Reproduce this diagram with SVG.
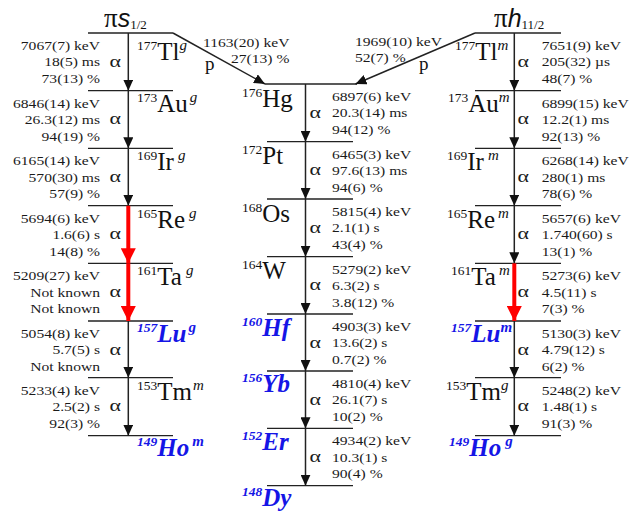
<svg xmlns="http://www.w3.org/2000/svg" width="634" height="512" viewBox="0 0 634 512">
<style>
.lv{stroke:#222;stroke-width:1.3;fill:none}
.ar{stroke:#222;stroke-width:1.5;fill:none;marker-end:url(#ah)}
.arr{stroke:#f00;stroke-width:4;fill:none;marker-end:url(#ahr)}
.d{font-family:"Liberation Serif",serif;font-size:13px;fill:#1a1a1a}
.al{font-family:"Liberation Serif",serif;font-size:17.5px;fill:#1a1a1a}
.nl{font-family:"Liberation Serif",serif;font-size:25px;fill:#111}
.ms{font-size:13.5px}
.iso{font-size:15px;font-style:italic}
.bl{fill:#1515e6;font-weight:bold;font-style:italic}
.hd{font-family:"Liberation Serif",serif;font-size:27px;fill:#111}
.hs{font-family:"Liberation Sans",sans-serif;font-style:italic;font-size:25px}
.sb{font-family:"Liberation Serif",serif;font-style:normal;font-size:13px}
.pl{font-family:"Liberation Serif",serif;font-size:19px;fill:#111}
</style>
<defs>
<marker id="ah" markerUnits="userSpaceOnUse" markerWidth="11" markerHeight="10" refX="11" refY="5" orient="auto"><path d="M0,0 L11,5 L0,10 z" fill="#111"/></marker>
<marker id="ahr" markerUnits="userSpaceOnUse" markerWidth="15" markerHeight="15" refX="15" refY="7.5" orient="auto"><path d="M0,0 L15,7.5 L0,15 z" fill="#f00"/></marker>
</defs>

<g id="headings">
<text class="hd" x="104" y="27">π<tspan class="hs">s</tspan><tspan class="sb" dy="2">1/2</tspan></text>
<text class="hd" x="494" y="27">π<tspan class="hs">h</tspan><tspan class="sb" dy="2">11/2</tspan></text>
</g>

<!-- Left column -->
<g id="Tl177g">
<line class="lv" x1="88" y1="33" x2="173" y2="33"/>
<text class="nl" x="137" y="60"><tspan class="ms" dy="-10">177</tspan><tspan dy="10">Tl</tspan><tspan class="iso" dy="-10">g</tspan></text>
<text class="d" text-anchor="end" transform="matrix(1.2 0 0 1 100 50)"><tspan x="0">7067(7) keV</tspan><tspan x="0" dy="16.5">18(5) ms</tspan><tspan x="0" dy="16.5">73(13) %</tspan></text>
<text class="al" transform="matrix(1.25 0 0 1 109.5 66.5)">α</text>
</g>
<g id="Au173g">
<line class="lv" x1="88" y1="90.7" x2="173" y2="90.7"/>
<text class="nl" x="137" y="112"><tspan class="ms" dy="-10">173</tspan><tspan dy="10">Au</tspan><tspan class="iso" dy="-10" dx="2">g</tspan></text>
<text class="d" text-anchor="end" transform="matrix(1.2 0 0 1 100 107.7)"><tspan x="0">6846(14) keV</tspan><tspan x="0" dy="16.5">26.3(12) ms</tspan><tspan x="0" dy="16.5">94(19) %</tspan></text>
<text class="al" transform="matrix(1.25 0 0 1 109.5 124.2)">α</text>
</g>
<g id="Ir169g">
<line class="lv" x1="88" y1="148.3" x2="173" y2="148.3"/>
<text class="nl" x="137" y="170"><tspan class="ms" dy="-10">169</tspan><tspan dy="10">Ir</tspan><tspan class="iso" dy="-10" dx="4">g</tspan></text>
<text class="d" text-anchor="end" transform="matrix(1.2 0 0 1 100 165.3)"><tspan x="0">6165(14) keV</tspan><tspan x="0" dy="16.5">570(30) ms</tspan><tspan x="0" dy="16.5">57(9) %</tspan></text>
<text class="al" transform="matrix(1.25 0 0 1 109.5 181.8)">α</text>
</g>
<g id="Re165g">
<line class="lv" x1="88" y1="205.7" x2="173" y2="205.7"/>
<text class="nl" x="137" y="228"><tspan class="ms" dy="-10">165</tspan><tspan dy="10">Re</tspan><tspan class="iso" dy="-10" dx="4">g</tspan></text>
<text class="d" text-anchor="end" transform="matrix(1.2 0 0 1 100 222.7)"><tspan x="0">5694(6) keV</tspan><tspan x="0" dy="16.5">1.6(6) s</tspan><tspan x="0" dy="16.5">14(8) %</tspan></text>
<text class="al" transform="matrix(1.25 0 0 1 109.5 239.2)">α</text>
</g>
<g id="Ta161g">
<line class="lv" x1="88" y1="263.3" x2="173" y2="263.3"/>
<text class="nl" x="137" y="285"><tspan class="ms" dy="-10">161</tspan><tspan dy="10">Ta</tspan><tspan class="iso" dy="-10" dx="4">g</tspan></text>
<text class="d" text-anchor="end" transform="matrix(1.2 0 0 1 100 280.3)"><tspan x="0">5209(27) keV</tspan><tspan x="0" dy="16.5">Not known</tspan><tspan x="0" dy="16.5">Not known</tspan></text>
<text class="al" transform="matrix(1.25 0 0 1 109.5 296.8)">α</text>
</g>
<g id="Lu157g">
<line class="lv" x1="88" y1="321" x2="173" y2="321"/>
<text class="nl bl" x="137" y="342"><tspan class="ms" dy="-10">157</tspan><tspan dy="10">Lu</tspan><tspan class="iso" dy="-10" dx="2">g</tspan></text>
<text class="d" text-anchor="end" transform="matrix(1.2 0 0 1 100 338)"><tspan x="0">5054(8) keV</tspan><tspan x="0" dy="16.5">5.7(5) s</tspan><tspan x="0" dy="16.5">Not known</tspan></text>
<text class="al" transform="matrix(1.25 0 0 1 109.5 354.5)">α</text>
</g>
<g id="Tm153m">
<line class="lv" x1="88" y1="377.7" x2="173" y2="377.7"/>
<text class="nl" x="137" y="400"><tspan class="ms" dy="-10">153</tspan><tspan dy="10">Tm</tspan><tspan class="iso" dy="-10" dx="1">m</tspan></text>
<text class="d" text-anchor="end" transform="matrix(1.2 0 0 1 100 394.7)"><tspan x="0">5233(4) keV</tspan><tspan x="0" dy="16.5">2.5(2) s</tspan><tspan x="0" dy="16.5">92(3) %</tspan></text>
<text class="al" transform="matrix(1.25 0 0 1 109.5 411.2)">α</text>
</g>
<g id="Ho149m">
<line class="lv" x1="88" y1="435.7" x2="173" y2="435.7"/>
<text class="nl bl" x="137" y="456"><tspan class="ms" dy="-10">149</tspan><tspan dy="10">Ho</tspan><tspan class="iso" dy="-10" dx="3">m</tspan></text>
</g>

<!-- Middle column -->
<g id="Hg176">
<line class="lv" x1="265" y1="84" x2="357" y2="84"/>
<text class="nl" x="242" y="107"><tspan class="ms" dy="-10">176</tspan><tspan dy="10">Hg</tspan></text>
<text class="d" transform="matrix(1.2 0 0 1 332 101)"><tspan x="0">6897(6) keV</tspan><tspan x="0" dy="16.5">20.3(14) ms</tspan><tspan x="0" dy="16.5">94(12) %</tspan></text>
<text class="al" transform="matrix(1.25 0 0 1 309.5 117.5)">α</text>
</g>
<g id="Pt172">
<line class="lv" x1="267" y1="141.7" x2="353" y2="141.7"/>
<text class="nl" x="242" y="164"><tspan class="ms" dy="-10">172</tspan><tspan dy="10">Pt</tspan></text>
<text class="d" transform="matrix(1.2 0 0 1 332 158.7)"><tspan x="0">6465(3) keV</tspan><tspan x="0" dy="16.5">97.6(13) ms</tspan><tspan x="0" dy="16.5">94(6) %</tspan></text>
<text class="al" transform="matrix(1.25 0 0 1 309.5 175.2)">α</text>
</g>
<g id="Os168">
<line class="lv" x1="267" y1="199" x2="353" y2="199"/>
<text class="nl" x="242" y="221.5"><tspan class="ms" dy="-10">168</tspan><tspan dy="10">Os</tspan></text>
<text class="d" transform="matrix(1.2 0 0 1 332 216)"><tspan x="0">5815(4) keV</tspan><tspan x="0" dy="16.5">2.1(1) s</tspan><tspan x="0" dy="16.5">43(4) %</tspan></text>
<text class="al" transform="matrix(1.25 0 0 1 309.5 232.5)">α</text>
</g>
<g id="W164">
<line class="lv" x1="267" y1="256.7" x2="353" y2="256.7"/>
<text class="nl" x="242" y="279"><tspan class="ms" dy="-10">164</tspan><tspan dy="10">W</tspan></text>
<text class="d" transform="matrix(1.2 0 0 1 332 273.7)"><tspan x="0">5279(2) keV</tspan><tspan x="0" dy="16.5">6.3(2) s</tspan><tspan x="0" dy="16.5">3.8(12) %</tspan></text>
<text class="al" transform="matrix(1.25 0 0 1 309.5 290.2)">α</text>
</g>
<g id="Hf160">
<line class="lv" x1="267" y1="314" x2="353" y2="314"/>
<text class="nl bl" x="242" y="336"><tspan class="ms" dy="-10">160</tspan><tspan dy="10">Hf</tspan></text>
<text class="d" transform="matrix(1.2 0 0 1 332 331)"><tspan x="0">4903(3) keV</tspan><tspan x="0" dy="16.5">13.6(2) s</tspan><tspan x="0" dy="16.5">0.7(2) %</tspan></text>
<text class="al" transform="matrix(1.25 0 0 1 309.5 347.5)">α</text>
</g>
<g id="Yb156">
<line class="lv" x1="267" y1="371" x2="353" y2="371"/>
<text class="nl bl" x="242" y="392"><tspan class="ms" dy="-10">156</tspan><tspan dy="10">Yb</tspan></text>
<text class="d" transform="matrix(1.2 0 0 1 332 388)"><tspan x="0">4810(4) keV</tspan><tspan x="0" dy="16.5">26.1(7) s</tspan><tspan x="0" dy="16.5">10(2) %</tspan></text>
<text class="al" transform="matrix(1.25 0 0 1 309.5 404.5)">α</text>
</g>
<g id="Er152">
<line class="lv" x1="267" y1="428.3" x2="353" y2="428.3"/>
<text class="nl bl" x="242" y="450"><tspan class="ms" dy="-10">152</tspan><tspan dy="10">Er</tspan></text>
<text class="d" transform="matrix(1.2 0 0 1 332 445.3)"><tspan x="0">4934(2) keV</tspan><tspan x="0" dy="16.5">10.3(1) s</tspan><tspan x="0" dy="16.5">90(4) %</tspan></text>
<text class="al" transform="matrix(1.25 0 0 1 309.5 461.8)">α</text>
</g>
<g id="Dy148">
<line class="lv" x1="267" y1="485.7" x2="353" y2="485.7"/>
<text class="nl bl" x="242" y="506"><tspan class="ms" dy="-10">148</tspan><tspan dy="10">Dy</tspan></text>
</g>

<!-- Right column -->
<g id="Tl177m">
<line class="lv" x1="475" y1="33" x2="561" y2="33"/>
<text class="nl" x="455" y="60"><tspan class="ms" dy="-10">177</tspan><tspan dy="10">Tl</tspan><tspan class="iso" dy="-10">m</tspan></text>
<text class="d" transform="matrix(1.2 0 0 1 541.7 50)"><tspan x="0">7651(9) keV</tspan><tspan x="0" dy="16.5">205(32) µs</tspan><tspan x="0" dy="16.5">48(7) %</tspan></text>
<text class="al" transform="matrix(1.25 0 0 1 517.5 66.5)">α</text>
</g>
<g id="Au173m">
<line class="lv" x1="475" y1="90.7" x2="561" y2="90.7"/>
<text class="nl" x="448" y="112"><tspan class="ms" dy="-10">173</tspan><tspan dy="10">Au</tspan><tspan class="iso" dy="-10">m</tspan></text>
<text class="d" transform="matrix(1.2 0 0 1 541.7 107.7)"><tspan x="0">6899(15) keV</tspan><tspan x="0" dy="16.5">12.2(1) ms</tspan><tspan x="0" dy="16.5">92(13) %</tspan></text>
<text class="al" transform="matrix(1.25 0 0 1 517.5 124.2)">α</text>
</g>
<g id="Ir169m">
<line class="lv" x1="475" y1="148.3" x2="561" y2="148.3"/>
<text class="nl" x="447" y="170"><tspan class="ms" dy="-10">169</tspan><tspan dy="10">Ir</tspan><tspan class="iso" dy="-10" dx="4">m</tspan></text>
<text class="d" transform="matrix(1.2 0 0 1 541.7 165.3)"><tspan x="0">6268(14) keV</tspan><tspan x="0" dy="16.5">280(1) ms</tspan><tspan x="0" dy="16.5">78(6) %</tspan></text>
<text class="al" transform="matrix(1.25 0 0 1 517.5 181.8)">α</text>
</g>
<g id="Re165m">
<line class="lv" x1="475" y1="205.7" x2="561" y2="205.7"/>
<text class="nl" x="447" y="228"><tspan class="ms" dy="-10">165</tspan><tspan dy="10">Re</tspan><tspan class="iso" dy="-10" dx="3">m</tspan></text>
<text class="d" transform="matrix(1.2 0 0 1 541.7 222.7)"><tspan x="0">5657(6) keV</tspan><tspan x="0" dy="16.5">1.740(60) s</tspan><tspan x="0" dy="16.5">13(1) %</tspan></text>
<text class="al" transform="matrix(1.25 0 0 1 517.5 239.2)">α</text>
</g>
<g id="Ta161m">
<line class="lv" x1="475" y1="263.3" x2="561" y2="263.3"/>
<text class="nl" x="451" y="285"><tspan class="ms" dy="-10">161</tspan><tspan dy="10">Ta</tspan><tspan class="iso" dy="-10" dx="3">m</tspan></text>
<text class="d" transform="matrix(1.2 0 0 1 541.7 280.3)"><tspan x="0">5273(6) keV</tspan><tspan x="0" dy="16.5">4.5(11) s</tspan><tspan x="0" dy="16.5">7(3) %</tspan></text>
<text class="al" transform="matrix(1.25 0 0 1 517.5 296.8)">α</text>
</g>
<g id="Lu157m">
<line class="lv" x1="475" y1="321" x2="561" y2="321"/>
<text class="nl bl" x="451" y="342"><tspan class="ms" dy="-10">157</tspan><tspan dy="10">Lu</tspan><tspan class="iso" dy="-10">m</tspan></text>
<text class="d" transform="matrix(1.2 0 0 1 541.7 338)"><tspan x="0">5130(3) keV</tspan><tspan x="0" dy="16.5">4.79(12) s</tspan><tspan x="0" dy="16.5">6(2) %</tspan></text>
<text class="al" transform="matrix(1.25 0 0 1 517.5 354.5)">α</text>
</g>
<g id="Tm153g">
<line class="lv" x1="475" y1="377.7" x2="561" y2="377.7"/>
<text class="nl" x="446" y="400"><tspan class="ms" dy="-10">153</tspan><tspan dy="10">Tm</tspan><tspan class="iso" dy="-10">g</tspan></text>
<text class="d" transform="matrix(1.2 0 0 1 541.7 394.7)"><tspan x="0">5248(2) keV</tspan><tspan x="0" dy="16.5">1.48(1) s</tspan><tspan x="0" dy="16.5">91(3) %</tspan></text>
<text class="al" transform="matrix(1.25 0 0 1 517.5 411.2)">α</text>
</g>
<g id="Ho149g">
<line class="lv" x1="475" y1="435.7" x2="561" y2="435.7"/>
<text class="nl bl" x="449" y="456"><tspan class="ms" dy="-10">149</tspan><tspan dy="10">Ho</tspan><tspan class="iso" dy="-10" dx="4">g</tspan></text>
</g>

<g id="connectors">
<line class="ar" x1="128.3" y1="33" x2="128.3" y2="90.7"/>
<line class="ar" x1="128.3" y1="90.7" x2="128.3" y2="148.3"/>
<line class="ar" x1="128.3" y1="148.3" x2="128.3" y2="205.7"/>
<line class="arr" x1="128.3" y1="205.7" x2="128.3" y2="263.3"/>
<line class="arr" x1="128.3" y1="263.3" x2="128.3" y2="321"/>
<line class="ar" x1="128.3" y1="321" x2="128.3" y2="377.7"/>
<line class="ar" x1="128.3" y1="377.7" x2="128.3" y2="435.7"/>

<line class="ar" x1="305.5" y1="84" x2="305.5" y2="141.7"/>
<line class="ar" x1="305.5" y1="141.7" x2="305.5" y2="199"/>
<line class="ar" x1="305.5" y1="199" x2="305.5" y2="256.7"/>
<line class="ar" x1="305.5" y1="256.7" x2="305.5" y2="314"/>
<line class="ar" x1="305.5" y1="314" x2="305.5" y2="371"/>
<line class="ar" x1="305.5" y1="371" x2="305.5" y2="428.3"/>
<line class="ar" x1="305.5" y1="428.3" x2="305.5" y2="485.7"/>

<line class="ar" x1="514.3" y1="33" x2="514.3" y2="90.7"/>
<line class="ar" x1="514.3" y1="90.7" x2="514.3" y2="148.3"/>
<line class="ar" x1="514.3" y1="148.3" x2="514.3" y2="205.7"/>
<line class="ar" x1="514.3" y1="205.7" x2="514.3" y2="263.3"/>
<line class="arr" x1="514.3" y1="263.3" x2="514.3" y2="321"/>
<line class="ar" x1="514.3" y1="321" x2="514.3" y2="377.7"/>
<line class="ar" x1="514.3" y1="377.7" x2="514.3" y2="435.7"/>

<line class="ar" x1="173" y1="33" x2="265" y2="84"/>
<line class="ar" x1="475" y1="33" x2="355.5" y2="84"/>
<text class="pl" x="205" y="70">p</text>
<text class="pl" x="419" y="70">p</text>
<text class="d" transform="matrix(1.2 0 0 1 203 47)">1163(20) keV</text>
<text class="d" transform="matrix(1.2 0 0 1 231 63)">27(13) %</text>
<text class="d" transform="matrix(1.2 0 0 1 355 45.5)">1969(10) keV</text>
<text class="d" transform="matrix(1.2 0 0 1 355 61.5)">52(7) %</text>
</g>
</svg>
